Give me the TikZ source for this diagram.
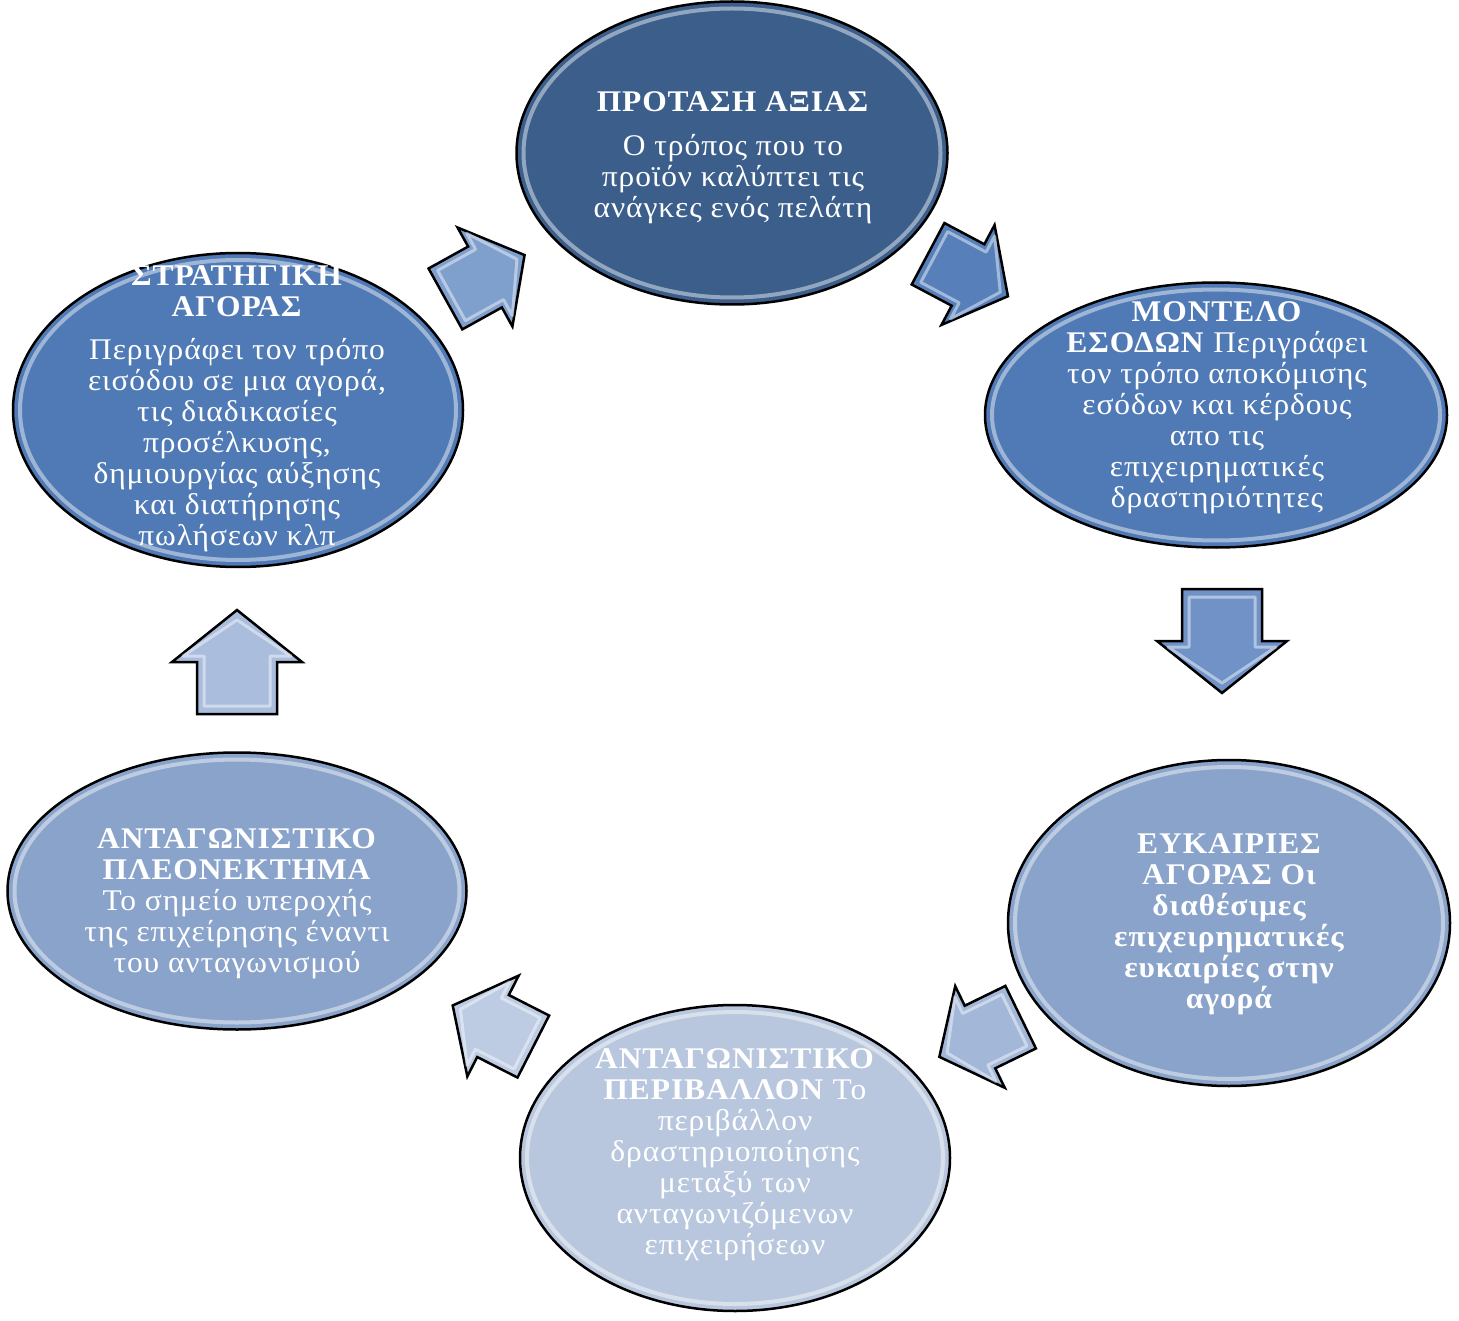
\documentclass[tikz,border=0pt]{standalone}
\usepackage{fontspec}
\setmainfont{Liberation Serif}[FakeStretch=1.05, LetterSpace=3]
\usetikzlibrary{shapes.geometric,calc}
\definecolor{cDark}{HTML}{3B5E8B}
\definecolor{cMid}{HTML}{4F7AB5}
\definecolor{cLight}{HTML}{8AA3CB}
\definecolor{cPale}{HTML}{B9C7DE}
\definecolor{aA}{HTML}{7F9FCC}
\definecolor{aB}{HTML}{5780BA}
\definecolor{aC}{HTML}{7092C6}
\definecolor{aD}{HTML}{A3B7D9}
\definecolor{aE}{HTML}{BDCBE3}
\definecolor{aF}{HTML}{AABDDD}
\newcommand{\cyclearrow}[4]{%
  \begin{scope}[shift={(#1)}, rotate=#2, scale=#3]
    \filldraw[fill=#4, draw=black, line width=2.5pt, line join=miter]
      (52,0) -- (0,65) -- (0,40) -- (-52,40) -- (-52,-40) -- (0,-40) -- (0,-65) -- cycle;
    \draw[white, opacity=.45, line width=3pt, line join=round]
      (42,0) -- (6,54) -- (6,33) -- (-44,33) -- (-44,-33) -- (6,-33) -- (6,-54) -- cycle;
  \end{scope}}
\begin{document}
\begin{tikzpicture}[x=1pt,y=-1pt,
  bubble/.style={ellipse, draw=black, line width=2.5pt, inner sep=0pt},
  rim/.style={ellipse, draw=white, draw opacity=.45, line width=4pt, inner sep=0pt},
  txt/.style={text=white, align=center, inner sep=0pt, font=\fontsize{30}{31}\selectfont}]
\useasboundingbox (0,0) rectangle (1459,1321);

% ellipses
\node[bubble, fill=cDark, minimum width=431pt, minimum height=303pt] (n1) at (732,153) {};
\node[rim, minimum width=417pt, minimum height=289pt] (r1) at (n1) {};
\node[bubble, fill=cMid, minimum width=462pt, minimum height=265pt] (n2) at (1216,415) {};
\node[rim, minimum width=448pt, minimum height=251pt] (r2) at (n2) {};
\node[bubble, fill=cLight, minimum width=442pt, minimum height=326pt] (n3) at (1229,923) {};
\node[rim, minimum width=428pt, minimum height=312pt] (r3) at (n3) {};
\node[bubble, fill=cPale, minimum width=430pt, minimum height=306pt] (n4) at (735,1158) {};
\node[rim, minimum width=416pt, minimum height=292pt] (r4) at (n4) {};
\node[bubble, fill=cLight, minimum width=459pt, minimum height=277pt] (n5) at (237,891) {};
\node[rim, minimum width=445pt, minimum height=263pt] (r5) at (n5) {};
\node[bubble, fill=cMid, minimum width=450pt, minimum height=314pt] (n6) at (238,410) {};
\node[rim, minimum width=436pt, minimum height=300pt] (r6) at (n6) {};

% texts
\node[txt] (t1) at (733,158) {\textbf{ΠΡΟΤΑΣΗ ΑΞΙΑΣ}\\[13pt] Ο τρόπος που το\\ προϊόν καλύπτει τις\\ ανάγκες ενός πελάτη};
\node[txt] (t2) at (1217,408) {\textbf{ΜΟΝΤΕΛΟ}\\ \textbf{ΕΣΟΔΩΝ} Περιγράφει\\ τον τρόπο αποκόμισης\\ εσόδων και κέρδους\\ απο τις\\ επιχειρηματικές\\ δραστηριότητες};
\node[txt, font=\fontsize{30}{31}\selectfont\bfseries] (t3) at (1229,924) {ΕΥΚΑΙΡΙΕΣ\\ ΑΓΟΡΑΣ Οι\\ διαθέσιμες\\ επιχειρηματικές\\ ευκαιρίες στην\\ αγορά};
\node[txt] (t4) at (735,1155) {\textbf{ΑΝΤΑΓΩΝΙΣΤΙΚΟ}\\ \textbf{ΠΕΡΙΒΑΛΛΟΝ} Το\\ περιβάλλον\\ δραστηριοποίησης\\ μεταξύ των\\ ανταγωνιζόμενων\\ επιχειρήσεων};
\node[txt] (t5) at (237,904) {\textbf{ΑΝΤΑΓΩΝΙΣΤΙΚΟ}\\ \textbf{ΠΛΕΟΝΕΚΤΗΜΑ}\\ Το σημείο υπεροχής\\ της επιχείρησης έναντι\\ του ανταγωνισμού};
\node[txt] (t6) at (237,409) {\textbf{ΣΤΡΑΤΗΓΙΚΗ}\\ \textbf{ΑΓΟΡΑΣ}\\[12pt] Περιγράφει τον τρόπο\\ εισόδου σε μια αγορά,\\ τις διαδικασίες\\ προσέλκυσης,\\ δημιουργίας αύξησης\\ και διατήρησης\\ πωλήσεων κλπ};

% arrows
\coordinate (a1) at (485,277);
\coordinate (a2) at (968,275);
\coordinate (a3) at (1222,641);
\coordinate (a4) at (980,1037);
\coordinate (a5) at (493,1026);
\coordinate (a6) at (237,662);
\cyclearrow{a1}{29}{0.87}{aA}
\cyclearrow{a2}{-28}{0.87}{aB}
\cyclearrow{a3}{-90}{1}{aC}
\cyclearrow{a4}{206}{0.87}{aD}
\cyclearrow{a5}{153}{0.87}{aE}
\cyclearrow{a6}{90}{1}{aF}
\end{tikzpicture}
\end{document}
